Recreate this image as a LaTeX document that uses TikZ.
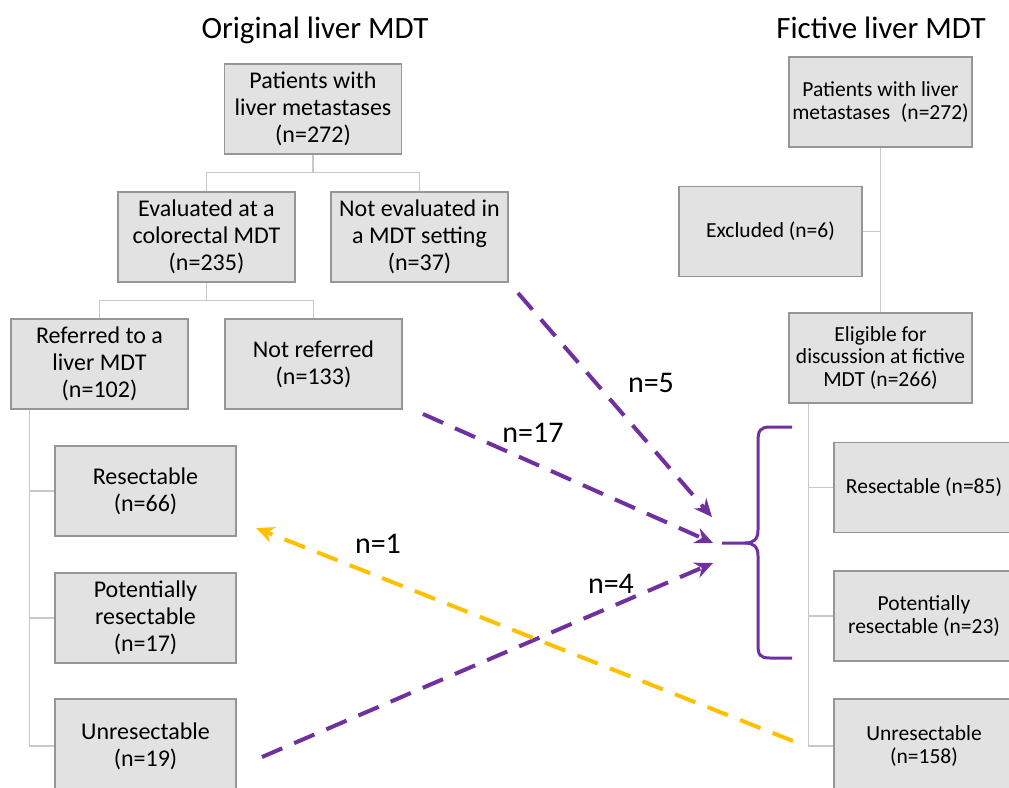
\documentclass[tikz,border=0pt]{standalone}
\usepackage{fontspec}
\setmainfont{Carlito}
\usetikzlibrary{arrows.meta}
\definecolor{pur}{RGB}{112,48,160}
\definecolor{yel}{RGB}{255,192,0}
\definecolor{boxline}{RGB}{150,150,150}
\definecolor{treeline}{RGB}{200,200,200}
\definecolor{boxfill}{RGB}{226,226,226}
\tikzset{
 box/.style={draw=boxline, line width=1.2pt, fill=boxfill, align=center, inner sep=0pt, text=black},
 lbox/.style={box, minimum width=177pt, minimum height=90pt, font=\fontsize{24}{27}\selectfont},
 rbox/.style={box, minimum width=183pt, minimum height=90pt, font=\fontsize{21.5}{22.5}\selectfont},
 tree/.style={draw=treeline, line width=1.5pt},
 flow/.style={line width=4pt, dash pattern=on 22pt off 13pt, -{Stealth[length=18pt,width=16pt]}},
 title/.style={font=\fontsize{31}{34}\selectfont, anchor=base},
 lab/.style={font=\fontsize{30}{32}\selectfont, anchor=base},
}
\begin{document}
\begin{tikzpicture}[x=1pt,y=-1pt]
\useasboundingbox (0,0) rectangle (1009,787);
\clip (0,0) rectangle (1009,787);
\fill[white] (0,0) rectangle (1009,787);

% titles
\node[title] (t1) at (315,38) {Original liver MDT};
\node[title] (t2) at (881,38) {Fictive liver MDT};

% left tree
\node[lbox] (top) at (313,109) {Patients with\\liver metastases\\(n=272)};
\node[lbox] (eval) at (206.5,237) {Evaluated at a\\colorectal MDT\\(n=235)};
\node[lbox] (noteval) at (419.5,237) {Not evaluated in\\a MDT setting\\(n=37)};
\node[lbox] (ref) at (99.5,364) {Referred to a\\liver MDT\\(n=102)};
\node[lbox] (notref) at (313.5,364) {Not referred\\(n=133)};
\node[lbox, minimum width=181pt] (lres) at (145.5,491) {Resectable\\(n=66)};
\node[lbox, minimum width=181pt] (lpot) at (145.5,618) {Potentially\\resectable\\(n=17)};
\node[lbox, minimum width=181pt, minimum height=94pt] (lunres) at (145.5,746) {Unresectable\\(n=19)};

\coordinate (j1) at ([yshift=-18pt]top.south);
\draw[tree] (top.south) -- (j1);
\draw[tree] (eval.north) |- (j1) -| (noteval.north);
\coordinate (j2) at ([yshift=-18pt]eval.south);
\draw[tree] (eval.south) -- (j2);
\draw[tree] (ref.north) |- (j2) -| (notref.north);
\coordinate (c0) at ([xshift=19pt]ref.south west);
\draw[tree] (c0) |- (lunres.west);
\draw[tree] (c0 |- lres.west) -- (lres.west);
\draw[tree] (c0 |- lpot.west) -- (lpot.west);

% right tree
\node[rbox] (rtop) at (880.5,102) {Patients with liver\\metastases\enspace(n=272)};
\node[rbox] (excl) at (770.5,231.5) {Excluded (n=6)};
\node[rbox] (elig) at (880.5,358) {Eligible for\\discussion at fictive\\MDT (n=266)};
\node[rbox, minimum width=180pt] (rres) at (924,487.5) {Resectable (n=85)};
\node[rbox, minimum width=180pt] (rpot) at (924,616) {Potentially\\resectable (n=23)};
\node[rbox, minimum width=180pt, minimum height=94pt] (runres) at (924,746) {Unresectable\\(n=158)};

\draw[tree] (rtop.south) -- (elig.north);
\draw[tree] (excl.east) -- (excl.east -| rtop.south);
\coordinate (c1) at ([xshift=20pt]elig.south west);
\draw[tree] (c1) |- (runres.west);
\draw[tree] (c1 |- rres.west) -- (rres.west);
\draw[tree] (c1 |- rpot.west) -- (rpot.west);

% brace
\coordinate (btip) at (722,543);
\draw[pur, line width=3pt] (792,427) -- (770,427) .. controls (760,427) and (758,431) .. (758,441) -- (758,530)
  .. controls (758,540) and (753,543) .. (745,543) -- (btip);
\draw[pur, line width=3pt] (745,543) .. controls (753,543) and (758,546) .. (758,556) -- (758,645)
  .. controls (758,655) and (760,658) .. (770,658) -- (792,658);

% flows
\coordinate (s5) at (518,293);
\coordinate (e5) at (712,517);
\coordinate (s17) at (423,414);
\coordinate (e17) at (713,543);
\coordinate (s4) at (262,757);
\coordinate (e4) at (713,563);
\coordinate (s1) at (793,741);
\coordinate (e1) at (256,528);
\draw[flow, pur] (s5) -- (e5);
\draw[flow, pur] (s17) -- (e17);
\draw[flow, pur] (s4) -- (e4);
\draw[flow, yel] (s1) -- (e1);

\node[lab] (l5) at (651,392) {n=5};
\node[lab] (l17) at (533,442) {n=17};
\node[lab] (l1) at (378,553) {n=1};
\node[lab] (l4) at (611,593) {n=4};
\end{tikzpicture}
\end{document}
